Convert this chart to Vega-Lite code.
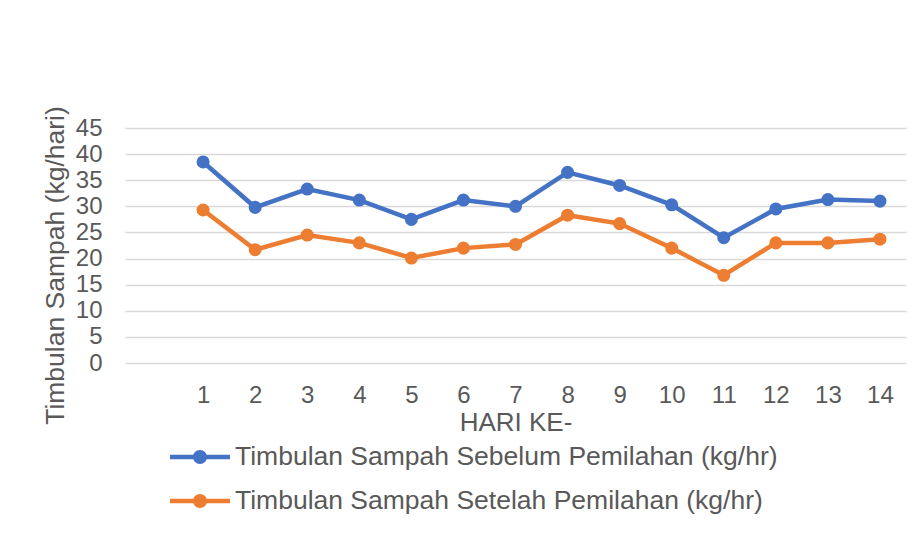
{
  "$schema": "https://vega.github.io/schema/vega-lite/v6.json",
  "width": 781,
  "height": 235,
  "autosize": {"type": "none"},
  "padding": {"left": 125, "top": 128, "right": 17, "bottom": 170},
  "background": "white",
  "config": {
    "view": {"stroke": null},
    "font": "Liberation Sans"
  },
  "data": {
    "values": [
      {"day": 1, "series": "Timbulan Sampah Sebelum Pemilahan (kg/hr)", "value": 38.5},
      {"day": 2, "series": "Timbulan Sampah Sebelum Pemilahan (kg/hr)", "value": 29.8},
      {"day": 3, "series": "Timbulan Sampah Sebelum Pemilahan (kg/hr)", "value": 33.3},
      {"day": 4, "series": "Timbulan Sampah Sebelum Pemilahan (kg/hr)", "value": 31.2},
      {"day": 5, "series": "Timbulan Sampah Sebelum Pemilahan (kg/hr)", "value": 27.5},
      {"day": 6, "series": "Timbulan Sampah Sebelum Pemilahan (kg/hr)", "value": 31.2},
      {"day": 7, "series": "Timbulan Sampah Sebelum Pemilahan (kg/hr)", "value": 30.0},
      {"day": 8, "series": "Timbulan Sampah Sebelum Pemilahan (kg/hr)", "value": 36.5},
      {"day": 9, "series": "Timbulan Sampah Sebelum Pemilahan (kg/hr)", "value": 34.0},
      {"day": 10, "series": "Timbulan Sampah Sebelum Pemilahan (kg/hr)", "value": 30.3},
      {"day": 11, "series": "Timbulan Sampah Sebelum Pemilahan (kg/hr)", "value": 24.0},
      {"day": 12, "series": "Timbulan Sampah Sebelum Pemilahan (kg/hr)", "value": 29.5},
      {"day": 13, "series": "Timbulan Sampah Sebelum Pemilahan (kg/hr)", "value": 31.3},
      {"day": 14, "series": "Timbulan Sampah Sebelum Pemilahan (kg/hr)", "value": 31.0},
      {"day": 1, "series": "Timbulan Sampah Setelah Pemilahan (kg/hr)", "value": 29.3},
      {"day": 2, "series": "Timbulan Sampah Setelah Pemilahan (kg/hr)", "value": 21.7},
      {"day": 3, "series": "Timbulan Sampah Setelah Pemilahan (kg/hr)", "value": 24.5},
      {"day": 4, "series": "Timbulan Sampah Setelah Pemilahan (kg/hr)", "value": 23.0},
      {"day": 5, "series": "Timbulan Sampah Setelah Pemilahan (kg/hr)", "value": 20.1},
      {"day": 6, "series": "Timbulan Sampah Setelah Pemilahan (kg/hr)", "value": 22.0},
      {"day": 7, "series": "Timbulan Sampah Setelah Pemilahan (kg/hr)", "value": 22.7},
      {"day": 8, "series": "Timbulan Sampah Setelah Pemilahan (kg/hr)", "value": 28.3},
      {"day": 9, "series": "Timbulan Sampah Setelah Pemilahan (kg/hr)", "value": 26.7},
      {"day": 10, "series": "Timbulan Sampah Setelah Pemilahan (kg/hr)", "value": 22.0},
      {"day": 11, "series": "Timbulan Sampah Setelah Pemilahan (kg/hr)", "value": 16.8},
      {"day": 12, "series": "Timbulan Sampah Setelah Pemilahan (kg/hr)", "value": 23.0},
      {"day": 13, "series": "Timbulan Sampah Setelah Pemilahan (kg/hr)", "value": 23.0},
      {"day": 14, "series": "Timbulan Sampah Setelah Pemilahan (kg/hr)", "value": 23.7}
    ]
  },
  "mark": {
    "type": "line",
    "strokeWidth": 4.5,
    "point": {"filled": true, "size": 170}
  },
  "encoding": {
    "x": {
      "field": "day",
      "type": "quantitative",
      "scale": {"domain": [-0.5, 14.5], "nice": false, "zero": false},
      "axis": {
        "values": [1, 2, 3, 4, 5, 6, 7, 8, 9, 10, 11, 12, 13, 14],
        "grid": false,
        "domain": false,
        "ticks": false,
        "labelFontSize": 24,
        "labelColor": "#595959",
        "labelPadding": 20,
        "title": "HARI KE-",
        "titleFontSize": 26,
        "titleFontWeight": "normal",
        "titleColor": "#595959",
        "titlePadding": 2
      }
    },
    "y": {
      "field": "value",
      "type": "quantitative",
      "scale": {"domain": [0, 45], "nice": false},
      "axis": {
        "values": [0, 5, 10, 15, 20, 25, 30, 35, 40, 45],
        "grid": true,
        "gridColor": "#d9d9d9",
        "gridWidth": 1.5,
        "domain": false,
        "ticks": false,
        "labelFontSize": 24,
        "labelColor": "#595959",
        "labelPadding": 23,
        "title": "Timbulan Sampah (kg/hari)",
        "titleFontSize": 26.5,
        "titleFontWeight": "normal",
        "titleColor": "#595959",
        "titleX": -70,
        "titleY": 137,
        "titleAlign": "center",
        "titleBaseline": "middle",
        "titleAngle": -90
      }
    },
    "color": {
      "field": "series",
      "type": "nominal",
      "scale": {
        "domain": ["Timbulan Sampah Sebelum Pemilahan (kg/hr)", "Timbulan Sampah Setelah Pemilahan (kg/hr)"],
        "range": ["#4472C4", "#ED7D31"]
      },
      "legend": {
        "title": null,
        "orient": "none",
        "legendX": 45,
        "legendY": 299,
        "direction": "vertical",
        "labelFontSize": 26.5,
        "labelColor": "#595959",
        "labelLimit": 800,
        "labelOffset": 5,
        "rowPadding": -5,
        "symbolType": "M-1,-0.075H-0.2V0.075H-1Z M0.2,-0.075H1V0.075H0.2Z M-0.233,0A0.233,0.233 0 1,1 0.233,0A0.233,0.233 0 1,1 -0.233,0Z",
        "symbolSize": 3600,
        "symbolStrokeWidth": 0,
        "encode": {
          "symbols": {
            "update": {
              "fill": {"scale": "color", "field": "value"},
              "stroke": {"scale": "color", "field": "value"},
              "strokeWidth": {"value": 0},
              "opacity": {"value": 1}
            }
          }
        }
      }
    }
  }
}
